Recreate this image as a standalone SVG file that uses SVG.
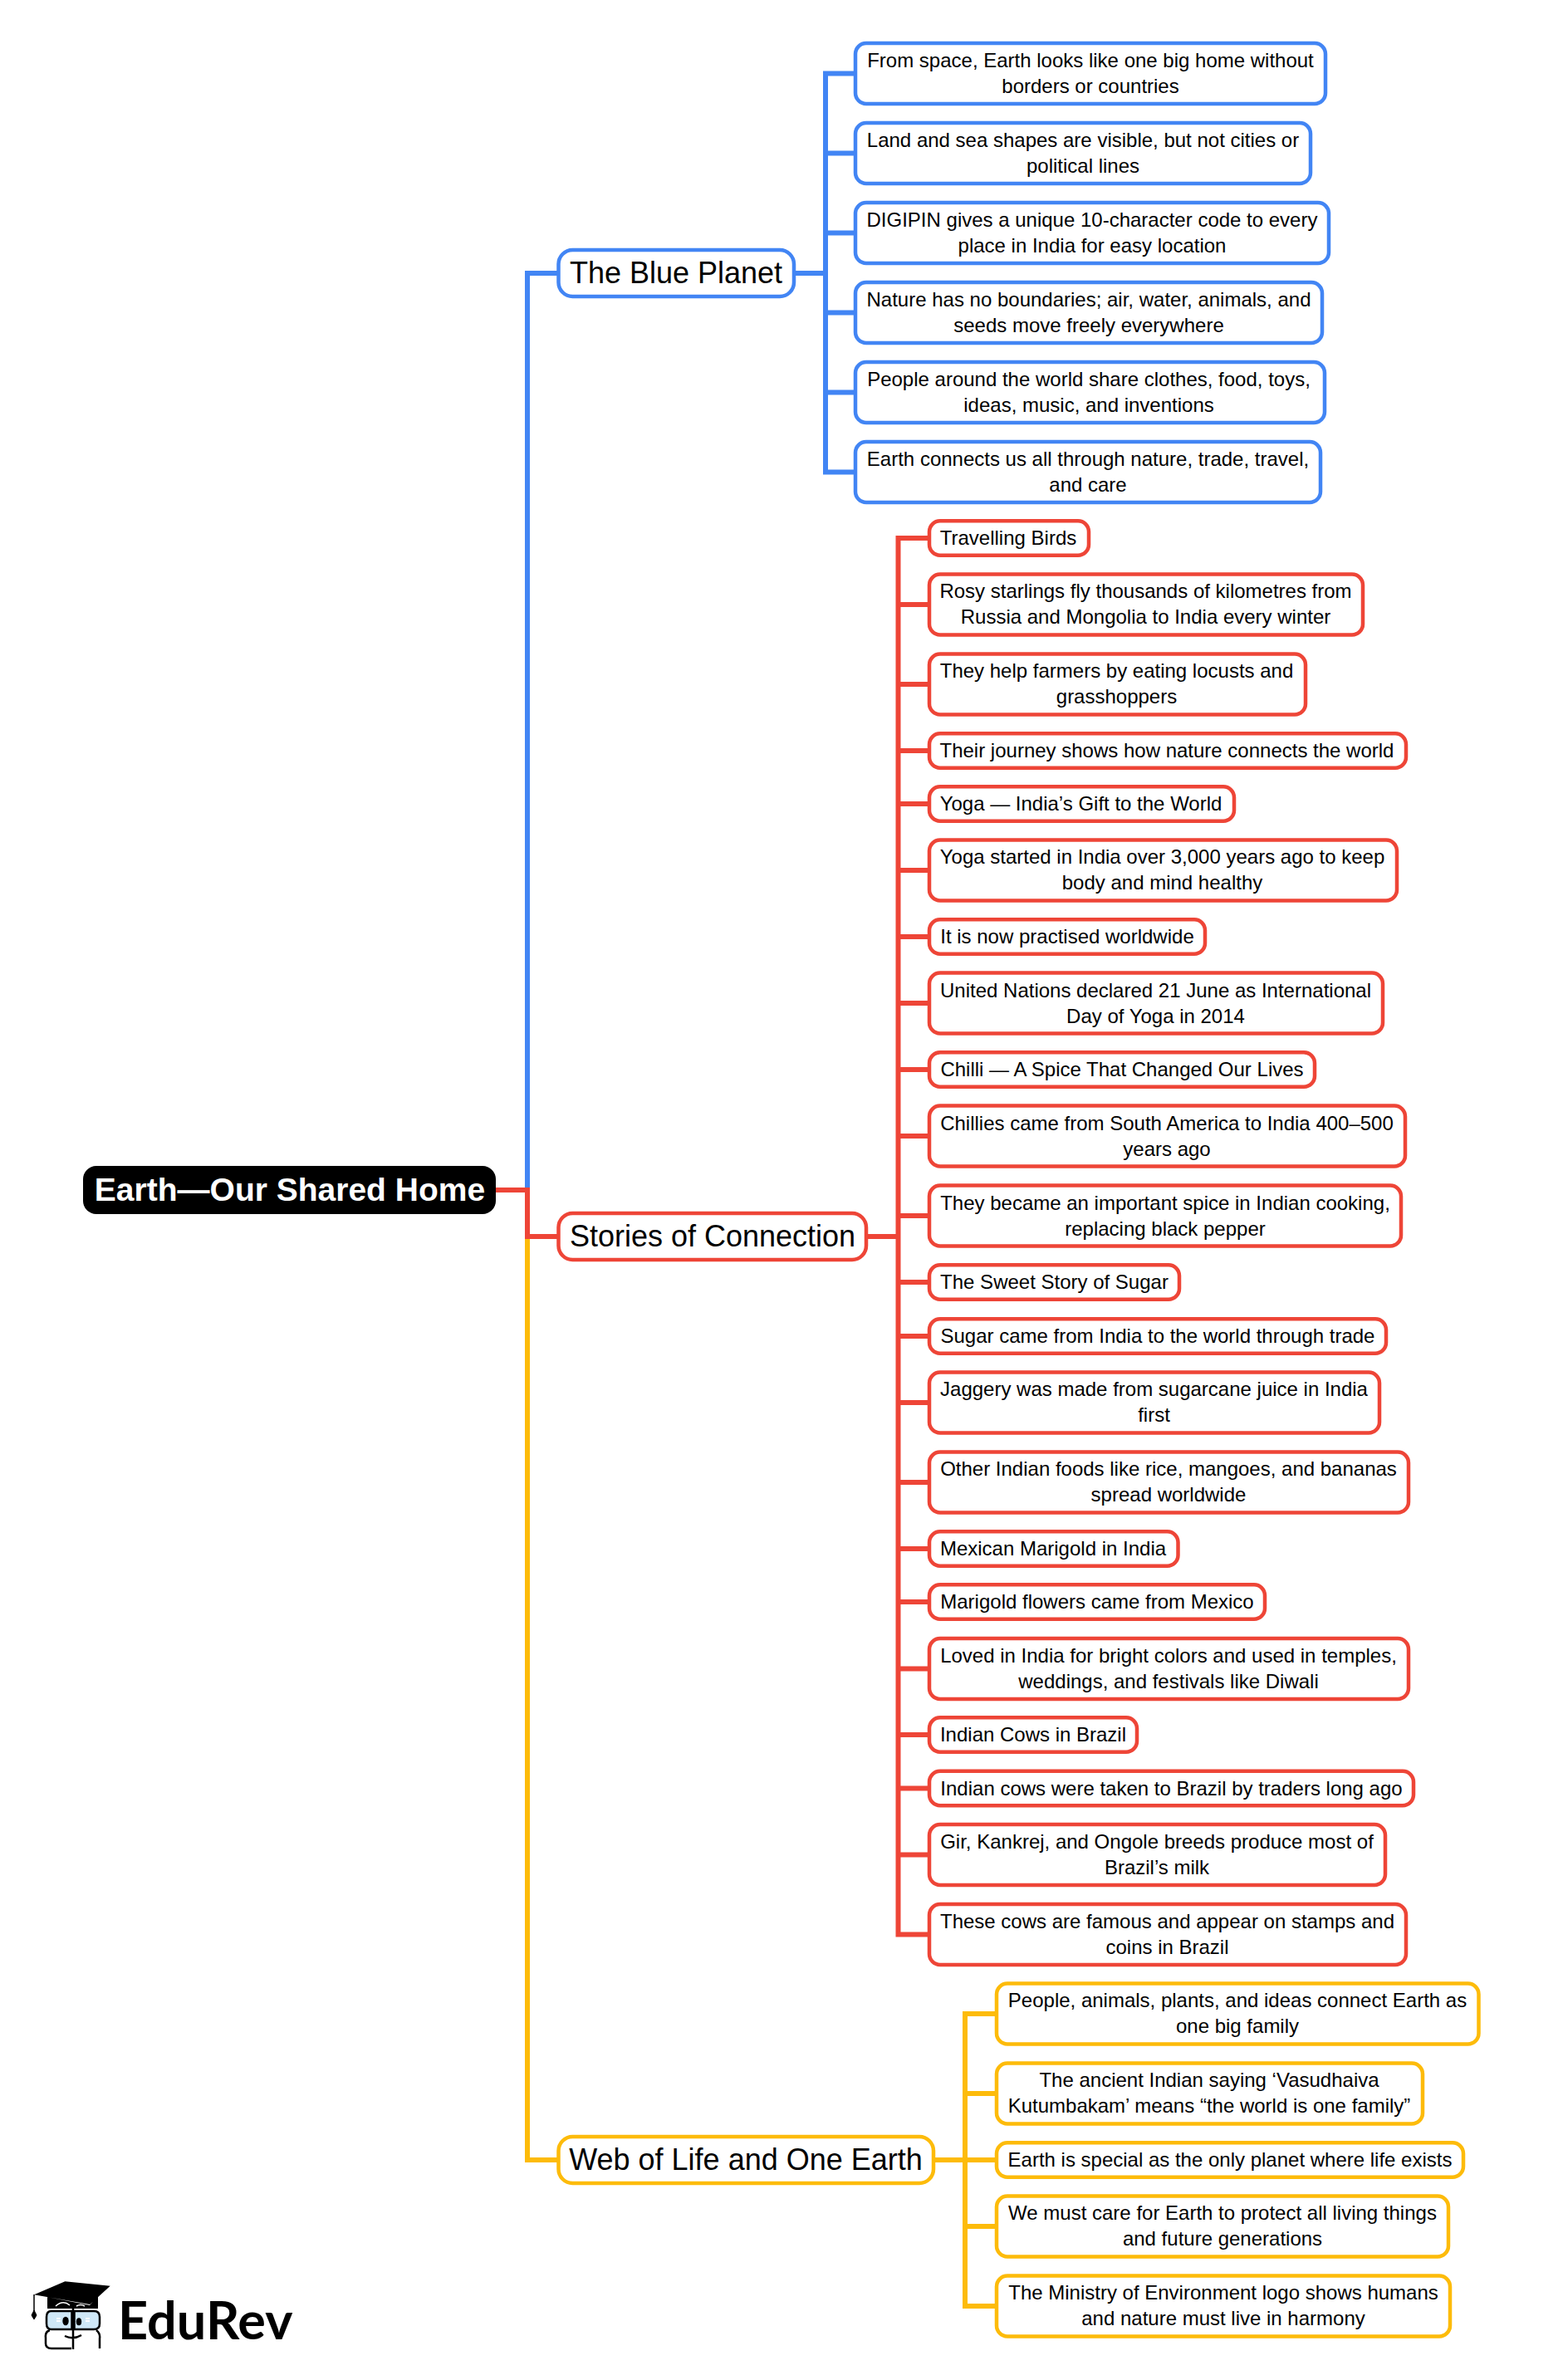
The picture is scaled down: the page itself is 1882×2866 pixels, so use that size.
<svg xmlns="http://www.w3.org/2000/svg" width="1882" height="2866" viewBox="0 0 1882 2866">
<style>
text{font-family:"Liberation Sans",Arial,sans-serif;fill:#000;text-anchor:middle}
.l{font-size:24px}
.m{font-size:36px}
.r{font-size:39px;font-weight:700;fill:#fff}
rect{fill:#fff;stroke-width:4.5}
.b rect{stroke:#4285f4}.re rect{stroke:#ee4537}.y rect{stroke:#fdbb0a}
path{fill:none;stroke-width:6}
.cb{stroke:#4285f4}.cr{stroke:#ee4537}.cy{stroke:#fdbb0a}
</style>
<rect width="1882" height="2866" style="fill:#fff;stroke:none"/>
<g id="connectors">
<path class="cb" d="M635 1433V329H672.5M956 329H994M994 85.5V571.5M991 88.5H1030M994 184.5H1030M994 280.5H1030M994 376.5H1030M994 472.5H1030M991 568.5H1030"/>
<path class="cy" d="M635 1489V2601H672.5M1124 2601H1162M1162 2422V2780M1159 2425H1200M1162 2521H1200M1162 2601H1200M1162 2681H1200M1159 2777H1200"/>
<path class="cr" d="M597 1433H635V1489H672.5M1043 1489H1081.5M1081.5 645V2332.5M1078.5 648H1119M1081.5 728H1119M1081.5 824H1119M1081.5 904H1119M1081.5 968H1119M1081.5 1048H1119M1081.5 1128H1119M1081.5 1208H1119M1081.5 1288H1119M1081.5 1368H1119M1081.5 1464H1119M1081.5 1544H1119M1081.5 1609H1119M1081.5 1689H1119M1081.5 1785H1119M1081.5 1865H1119M1081.5 1929H1119M1081.5 2009.5H1119M1081.5 2089H1119M1081.5 2153.5H1119M1081.5 2233.5H1119M1078.5 2329.5H1119"/>
</g>
<g id="root"><rect x="100" y="1404" width="497" height="58" rx="16" style="fill:#000;stroke:none"/><text class="r" x="349" y="1446">Earth—Our Shared Home</text></g>
<g id="m1" class="b"><rect x="672.5" y="301" width="283.5" height="56" rx="17"/><text class="m" x="814" y="341">The Blue Planet</text></g>
<g id="m2" class="re"><rect x="672.5" y="1461" width="370.5" height="56" rx="17"/><text class="m" x="858" y="1501">Stories of Connection</text></g>
<g id="m3" class="y"><rect x="672.5" y="2573" width="451.5" height="56" rx="17"/><text class="m" x="898" y="2613">Web of Life and One Earth</text></g>
<g id="b1" class="b"><rect x="1030" y="52" width="566" height="73" rx="13"/><text class="l" x="1313" y="80.5">From space, Earth looks like one big home without</text><text class="l" x="1313" y="111.5">borders or countries</text></g>
<g id="b2" class="b"><rect x="1030" y="148" width="548" height="73" rx="13"/><text class="l" x="1304" y="176.5">Land and sea shapes are visible, but not cities or</text><text class="l" x="1304" y="207.5">political lines</text></g>
<g id="b3" class="b"><rect x="1030" y="244" width="570" height="73" rx="13"/><text class="l" x="1315" y="272.5">DIGIPIN gives a unique 10-character code to every</text><text class="l" x="1315" y="303.5">place in India for easy location</text></g>
<g id="b4" class="b"><rect x="1030" y="340" width="562" height="73" rx="13"/><text class="l" x="1311" y="368.5">Nature has no boundaries; air, water, animals, and</text><text class="l" x="1311" y="399.5">seeds move freely everywhere</text></g>
<g id="b5" class="b"><rect x="1030" y="436" width="565" height="73" rx="13"/><text class="l" x="1311" y="464.5">People around the world share clothes, food, toys,</text><text class="l" x="1311" y="495.5">ideas, music, and inventions</text></g>
<g id="b6" class="b"><rect x="1030" y="532" width="560" height="73" rx="13"/><text class="l" x="1310" y="560.5">Earth connects us all through nature, trade, travel,</text><text class="l" x="1310" y="591.5">and care</text></g>
<g id="r1" class="re"><rect x="1119" y="627.25" width="192" height="41.5" rx="13"/><text class="l" x="1214" y="656">Travelling Birds</text></g>
<g id="r2" class="re"><rect x="1119" y="691.5" width="522" height="73" rx="13"/><text class="l" x="1379.5" y="720">Rosy starlings fly thousands of kilometres from</text><text class="l" x="1379.5" y="751">Russia and Mongolia to India every winter</text></g>
<g id="r3" class="re"><rect x="1119" y="787.5" width="453" height="73" rx="13"/><text class="l" x="1344.5" y="816">They help farmers by eating locusts and</text><text class="l" x="1344.5" y="847">grasshoppers</text></g>
<g id="r4" class="re"><rect x="1119" y="883.25" width="574" height="41.5" rx="13"/><text class="l" x="1405" y="912">Their journey shows how nature connects the world</text></g>
<g id="r5" class="re"><rect x="1119" y="947.25" width="367" height="41.5" rx="13"/><text class="l" x="1301.5" y="976">Yoga — India’s Gift to the World</text></g>
<g id="r6" class="re"><rect x="1119" y="1011.5" width="563" height="73" rx="13"/><text class="l" x="1399.5" y="1040">Yoga started in India over 3,000 years ago to keep</text><text class="l" x="1399.5" y="1071">body and mind healthy</text></g>
<g id="r7" class="re"><rect x="1119" y="1107.25" width="332" height="41.5" rx="13"/><text class="l" x="1285" y="1136">It is now practised worldwide</text></g>
<g id="r8" class="re"><rect x="1119" y="1171.5" width="546" height="73" rx="13"/><text class="l" x="1391.5" y="1200.5">United Nations declared 21 June as International</text><text class="l" x="1391.5" y="1231.5">Day of Yoga in 2014</text></g>
<g id="r9" class="re"><rect x="1119" y="1267.25" width="464" height="41.5" rx="13"/><text class="l" x="1351" y="1296">Chilli — A Spice That Changed Our Lives</text></g>
<g id="r10" class="re"><rect x="1119" y="1331.5" width="573" height="73" rx="13"/><text class="l" x="1405" y="1360.5">Chillies came from South America to India 400–500</text><text class="l" x="1405" y="1391.5">years ago</text></g>
<g id="r11" class="re"><rect x="1119" y="1427.5" width="568" height="73" rx="13"/><text class="l" x="1403" y="1456.5">They became an important spice in Indian cooking,</text><text class="l" x="1403" y="1487.5">replacing black pepper</text></g>
<g id="r12" class="re"><rect x="1119" y="1523.25" width="301" height="41.5" rx="13"/><text class="l" x="1269.5" y="1552">The Sweet Story of Sugar</text></g>
<g id="r13" class="re"><rect x="1119" y="1588.25" width="550" height="41.5" rx="13"/><text class="l" x="1394" y="1617">Sugar came from India to the world through trade</text></g>
<g id="r14" class="re"><rect x="1119" y="1652.5" width="542" height="73" rx="13"/><text class="l" x="1389.5" y="1681">Jaggery was made from sugarcane juice in India</text><text class="l" x="1389.5" y="1712">first</text></g>
<g id="r15" class="re"><rect x="1119" y="1748.5" width="577" height="73" rx="13"/><text class="l" x="1407" y="1777">Other Indian foods like rice, mangoes, and bananas</text><text class="l" x="1407" y="1808">spread worldwide</text></g>
<g id="r16" class="re"><rect x="1119" y="1844.25" width="299.5" height="41.5" rx="13"/><text class="l" x="1268" y="1873">Mexican Marigold in India</text></g>
<g id="r17" class="re"><rect x="1119" y="1908.25" width="404" height="41.5" rx="13"/><text class="l" x="1321" y="1937">Marigold flowers came from Mexico</text></g>
<g id="r18" class="re"><rect x="1119" y="1973" width="577" height="73" rx="13"/><text class="l" x="1407" y="2001.5">Loved in India for bright colors and used in temples,</text><text class="l" x="1407" y="2032.5">weddings, and festivals like Diwali</text></g>
<g id="r19" class="re"><rect x="1119" y="2068.25" width="250" height="41.5" rx="13"/><text class="l" x="1244" y="2097">Indian Cows in Brazil</text></g>
<g id="r20" class="re"><rect x="1119" y="2132.75" width="583" height="41.5" rx="13"/><text class="l" x="1410.5" y="2161.5">Indian cows were taken to Brazil by traders long ago</text></g>
<g id="r21" class="re"><rect x="1119" y="2197" width="549" height="73" rx="13"/><text class="l" x="1393" y="2225.5">Gir, Kankrej, and Ongole breeds produce most of</text><text class="l" x="1393" y="2256.5">Brazil’s milk</text></g>
<g id="r22" class="re"><rect x="1119" y="2293" width="574" height="73" rx="13"/><text class="l" x="1405.5" y="2321.5">These cows are famous and appear on stamps and</text><text class="l" x="1405.5" y="2352.5">coins in Brazil</text></g>
<g id="y1" class="y"><rect x="1200" y="2388.5" width="580.5" height="73" rx="13"/><text class="l" x="1490" y="2417">People, animals, plants, and ideas connect Earth as</text><text class="l" x="1490" y="2448">one big family</text></g>
<g id="y2" class="y"><rect x="1200" y="2484.5" width="513" height="73" rx="13"/><text class="l" x="1456" y="2513">The ancient Indian saying ‘Vasudhaiva</text><text class="l" x="1456" y="2544">Kutumbakam’ means “the world is one family”</text></g>
<g id="y3" class="y"><rect x="1200" y="2580.25" width="562" height="41.5" rx="13"/><text class="l" x="1481" y="2609">Earth is special as the only planet where life exists</text></g>
<g id="y4" class="y"><rect x="1200" y="2644.5" width="544" height="73" rx="13"/><text class="l" x="1472" y="2673">We must care for Earth to protect all living things</text><text class="l" x="1472" y="2704">and future generations</text></g>
<g id="y5" class="y"><rect x="1200" y="2740.5" width="546" height="73" rx="13"/><text class="l" x="1473" y="2769">The Ministry of Environment logo shows humans</text><text class="l" x="1473" y="2800">and nature must live in harmony</text></g>
<g id="logo">
<path d="M41 2763.3L78.3 2747.3L132.7 2752.7L108.3 2775ZM57 2766L108 2776L118 2765V2780H57Z" style="fill:#000;stroke:none"/>
<path d="M41 2763V2783" style="stroke:#000;stroke-width:1.5"/>
<path d="M41 2782L38 2788L41 2793L44 2788Z" style="fill:#000;stroke:#000;stroke-width:1"/>
<path d="M67 2777Q76 2769 84 2776M92 2777Q97 2774 102 2777" style="stroke:#fff;stroke-width:1.5"/>
<path d="M56 2790Q56 2783 62 2783H86.5V2805H62Q56 2805 56 2798ZM89.5 2783H113Q120 2783 120 2790V2798Q120 2805 113 2805H89.5Z" style="fill:#cfe8f7;stroke:#000;stroke-width:2.5"/>
<ellipse cx="79" cy="2795" rx="3.7" ry="5.3" style="fill:#000"/>
<ellipse cx="95" cy="2795.7" rx="3.2" ry="4.5" style="fill:#000"/>
<path d="M68 2792H73M68 2795H73M103 2792H108M103 2795H108" style="stroke:#fff;stroke-width:2"/>
<path d="M88 2780V2829M60 2806Q54 2808 55 2815V2822Q55 2828 62 2828H86M116 2806Q121 2810 120 2816V2828M78 2813Q88 2818 98 2812" style="stroke:#000;stroke-width:2.5"/>
<text x="142" y="2817" style="font-family:Lato,sans-serif;font-weight:700;font-size:63px;text-anchor:start">EduRev</text>
</g>
</svg>
